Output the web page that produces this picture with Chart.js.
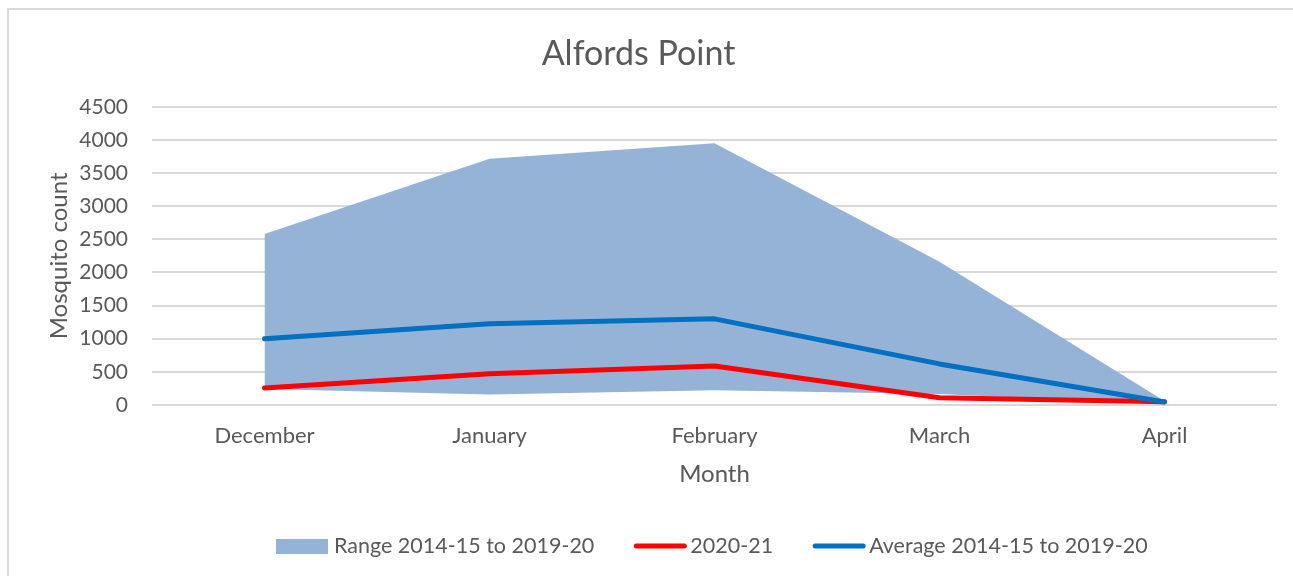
<!DOCTYPE html>
<html>
<head>
<meta charset="utf-8">
<script src="https://cdn.jsdelivr.net/npm/chart.js@4.4.0/dist/chart.umd.min.js"></script>
<style>
  html, body { margin: 0; padding: 0; background: #ffffff; }
  #wrap { width: 1293px; height: 576px; position: relative; }
</style>
</head>
<body>
<div id="wrap"><canvas id="c" width="1293" height="576"></canvas></div>
<script>
const months = ['December', 'January', 'February', 'March', 'April'];
const rangeLow = [240, 160, 222, 165, 10];
const rangeHigh = [2580, 3715, 3950, 2160, 60];
const season2020 = [257, 470, 590, 110, 50];
const average = [1000, 1225, 1300, 620, 45];
const yTicks = [0, 500, 1000, 1500, 2000, 2500, 3000, 3500, 4000, 4500];

const FONT = 'Lato, "Open Sans", sans-serif';
const TXT = '#595959';
const RANGE_COLOR = '#95B3D7';
const RED = '#FF0000';
const BLUE = '#0070C0';

const legendItems = [
  { text: 'Range 2014-15 to 2019-20', type: 'box', color: RANGE_COLOR },
  { text: '2020-21', type: 'line', color: RED },
  { text: 'Average 2014-15 to 2019-20', type: 'line', color: BLUE }
];

const framePlugin = {
  id: 'frame',
  beforeDraw(chart) {
    const ctx = chart.ctx;
    ctx.save();
    ctx.strokeStyle = '#D9D9D9';
    ctx.lineWidth = 2;
    ctx.beginPath();
    ctx.moveTo(8, 600);
    ctx.lineTo(8, 9);
    ctx.lineTo(1300, 9);
    ctx.stroke();
    ctx.restore();
  },
  afterDraw(chart) {
    const ctx = chart.ctx;
    ctx.save();
    ctx.font = '21.5px ' + FONT;
    ctx.textBaseline = 'middle';
    const y = 546;
    let x = 276;
    legendItems.forEach((it) => {
      if (it.type === 'box') {
        ctx.fillStyle = it.color;
        ctx.fillRect(x, y - 7, 52, 15);
        x += 52 + 6;
      } else {
        ctx.strokeStyle = it.color;
        ctx.lineWidth = 5;
        ctx.lineCap = 'round';
        ctx.beginPath();
        ctx.moveTo(x + 3, y);
        ctx.lineTo(x + 51, y);
        ctx.stroke();
        x += 54 + 3;
      }
      ctx.fillStyle = TXT;
      ctx.textAlign = 'left';
      ctx.fillText(it.text, x, y);
      x += ctx.measureText(it.text).width + 39;
    });
    ctx.restore();
  }
};

new Chart(document.getElementById('c'), {
  type: 'line',
  data: {
    labels: months,
    datasets: [
      { label: 'Range low', data: rangeLow, borderWidth: 0, pointRadius: 0, fill: false, order: 3, borderColor: 'rgba(0,0,0,0)' },
      { label: 'Range 2014-15 to 2019-20', data: rangeHigh, borderWidth: 0, pointRadius: 0, fill: 0, backgroundColor: RANGE_COLOR, borderColor: 'rgba(0,0,0,0)', order: 2 },
      { label: '2020-21', data: season2020, borderColor: RED, borderWidth: 5, pointRadius: 0, fill: false, order: 1, borderCapStyle: 'round', borderJoinStyle: 'round' },
      { label: 'Average 2014-15 to 2019-20', data: average, borderColor: BLUE, borderWidth: 5, pointRadius: 0, fill: false, order: 0, borderCapStyle: 'round', borderJoinStyle: 'round' }
    ]
  },
  options: {
    responsive: false,
    animation: false,
    layout: { padding: { left: 0, right: 16, top: 0, bottom: 76 } },
    plugins: {
      legend: { display: false },
      tooltip: { enabled: false },
      title: {
        display: true,
        text: 'Alfords Point',
        color: TXT,
        font: { family: FONT, size: 34, weight: 'normal' },
        padding: { top: 34, bottom: 32 }
      }
    },
    scales: {
      x: {
        offset: true,
        grid: { display: false, drawTicks: false },
        border: { display: false },
        ticks: { color: TXT, font: { family: FONT, size: 22 }, padding: 18, maxRotation: 0 },
        title: { display: true, text: 'Month', color: TXT, font: { family: FONT, size: 24 }, padding: { top: 0, bottom: 11 } },
        afterFit(s) { s.height = 95; }
      },
      y: {
        min: 0, max: 4500,
        afterBuildTicks(s) { s.ticks = yTicks.map(v => ({ value: v })); },
        grid: { color: '#D9D9D9', lineWidth: 2, drawTicks: false },
        border: { display: false },
        ticks: { color: TXT, font: { family: FONT, size: 21 }, padding: 24, callback: (v) => String(v) },
        title: { display: true, text: 'Mosquito count', color: TXT, font: { family: FONT, size: 24 }, padding: { top: 45, bottom: 0 } },
        afterFit(s) { s.width = 152; }
      }
    }
  },
  plugins: [framePlugin]
});
</script>
</body>
</html>
